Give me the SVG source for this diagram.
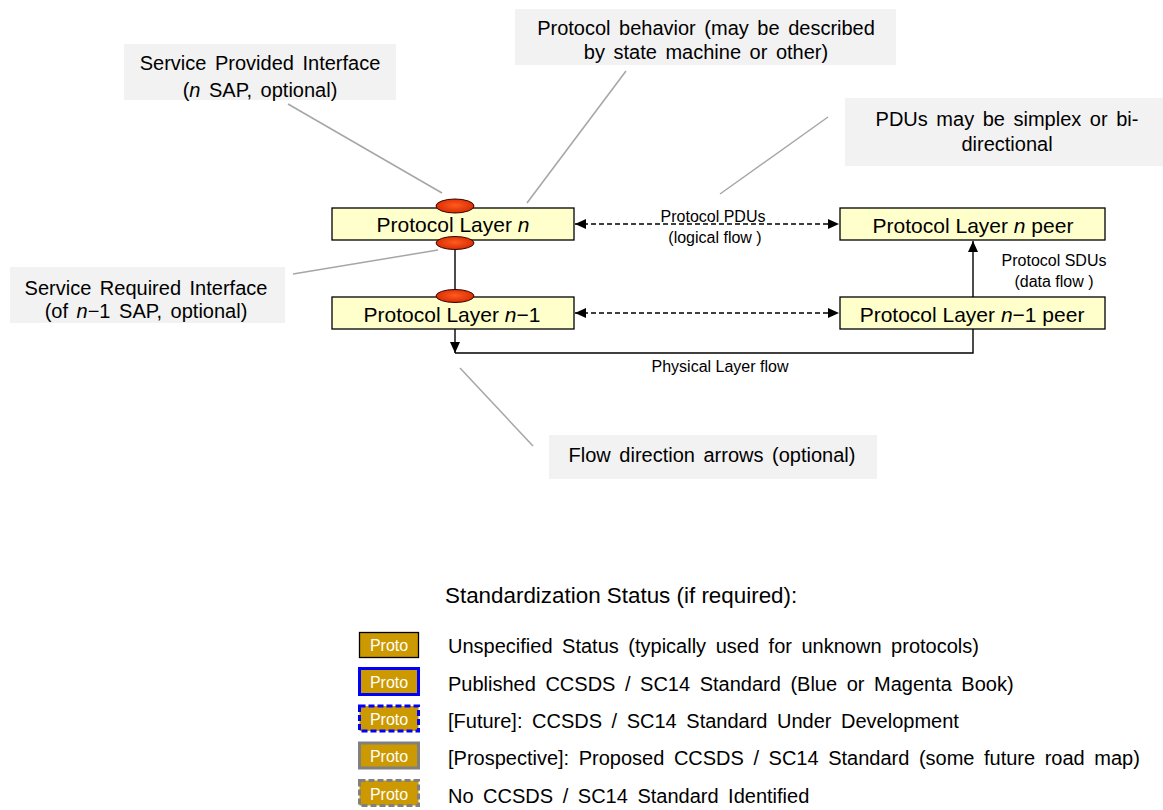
<svg xmlns="http://www.w3.org/2000/svg" width="1163" height="810" viewBox="0 0 1163 810">
<style>
text{font-family:"Liberation Sans",Arial,sans-serif;fill:#000}
.call{fill:#F2F2F2;stroke:none}
.ct{font-size:20px;text-anchor:middle;word-spacing:3px}
.lead{stroke:#A6A6A6;stroke-width:1.5;fill:none}
.box{fill:#FFFFCC;stroke:#000;stroke-width:1.3}
.bt{font-size:21px;text-anchor:middle}
.port{fill:url(#pg);stroke:#3a0000;stroke-width:1}
.dash{stroke:#000;stroke-width:1.4;stroke-dasharray:5 3;fill:none}
.solid{stroke:#000;stroke-width:1.4;fill:none}
.lbl{font-size:16px;text-anchor:middle}
.pb{fill:#CC9900}
.pt{font-size:16px;fill:#fff;text-anchor:middle}
.lt{font-size:20px;word-spacing:4px}
</style>
<defs>
<radialGradient id="pg" cx="0.5" cy="0.45" r="0.6">
<stop offset="0" stop-color="#FF5A1E"/>
<stop offset="1" stop-color="#D42800"/>
</radialGradient>
<marker id="ah" markerWidth="11" markerHeight="10" refX="11" refY="5" orient="auto" markerUnits="userSpaceOnUse">
<path d="M0,0 L11,5 L0,10 z" fill="#000"/>
</marker>
<marker id="ahs" markerWidth="11" markerHeight="10" refX="11" refY="5" orient="auto-start-reverse" markerUnits="userSpaceOnUse">
<path d="M0,0 L11,5 L0,10 z" fill="#000"/>
</marker>
</defs>

<g id="callouts">
<g id="callout-spi">
<rect class="call" x="124" y="44" width="272" height="56"/>
<text class="ct" x="260" y="70">Service Provided Interface</text>
<text class="ct" x="260" y="97" word-spacing="0">(<tspan font-style="italic">n</tspan> SAP, optional)</text>
</g>
<g id="callout-behavior">
<rect class="call" x="515" y="9" width="381" height="56"/>
<text class="ct" x="706" y="35">Protocol behavior  (may be described</text>
<text class="ct" x="706" y="59">by state machine or other)</text>
</g>
<g id="callout-pdus">
<rect class="call" x="845" y="98" width="325" height="68"/>
<text class="ct" x="1007" y="126">PDUs may be simplex or bi-</text>
<text class="ct" x="1007" y="151">directional</text>
</g>
<g id="callout-sri">
<rect class="call" x="10" y="267" width="275" height="56"/>
<text class="ct" x="146" y="295">Service Required Interface</text>
<text class="ct" x="146" y="318">(of <tspan font-style="italic">n</tspan>−1 SAP, optional)</text>
</g>
<g id="callout-flow">
<rect class="call" x="549" y="435" width="328" height="44"/>
<text class="ct" x="712" y="462">Flow direction arrows (optional)</text>
</g>
</g>

<g id="leaders">
<line class="lead" x1="288" y1="104" x2="442" y2="193"/>
<line class="lead" x1="626" y1="71" x2="527" y2="203"/>
<line class="lead" x1="828" y1="117" x2="720" y2="194"/>
<line class="lead" x1="293" y1="274" x2="438" y2="250"/>
<line class="lead" x1="460" y1="368" x2="533" y2="446"/>
</g>

<g id="connectors">
<line class="solid" x1="455" y1="249" x2="455" y2="291"/>
<line class="dash" x1="575" y1="224" x2="839" y2="224" marker-start="url(#ahs)" marker-end="url(#ah)"/>
<line class="dash" x1="575" y1="313" x2="839" y2="313" marker-start="url(#ahs)" marker-end="url(#ah)"/>
<line class="solid" x1="973" y1="297" x2="973" y2="241" marker-end="url(#ah)"/>
<line class="solid" x1="455" y1="329" x2="455" y2="353" marker-end="url(#ah)"/>
<polyline class="solid" points="455,353 973,353 973,329"/>
<text class="lbl" x="713" y="221.5">Protocol PDUs</text>
<text class="lbl" x="715" y="243">(logical flow )</text>
<text class="lbl" x="1054" y="266">Protocol SDUs</text>
<text class="lbl" x="1054" y="287">(data flow )</text>
<text class="lbl" x="720" y="371.5" font-size="17">Physical Layer flow</text>
</g>

<g id="layer-n">
<rect class="box" x="332" y="208" width="242" height="32"/>
<text class="bt" x="453" y="232">Protocol Layer <tspan font-style="italic">n</tspan></text>
<ellipse class="port" cx="455" cy="206" rx="19" ry="7"/>
<ellipse class="port" cx="455" cy="243" rx="19" ry="6.5"/>
</g>
<g id="layer-n-1">
<rect class="box" x="332" y="297" width="242" height="32"/>
<text class="bt" x="452" y="321.5">Protocol Layer <tspan font-style="italic">n</tspan>−1</text>
<ellipse class="port" cx="455" cy="296" rx="19" ry="6.5"/>
</g>
<g id="peer-n">
<rect class="box" x="840" y="208" width="265" height="32"/>
<text class="bt" x="973" y="232.5">Protocol Layer <tspan font-style="italic">n</tspan> peer</text>
</g>
<g id="peer-n-1">
<rect class="box" x="840" y="297" width="265" height="32"/>
<text class="bt" x="972" y="321.5">Protocol Layer <tspan font-style="italic">n</tspan>−1 peer</text>
</g>

<g id="legend">
<text x="445" y="603" font-size="22.4">Standardization Status (if required):</text>
<g id="leg-1">
<rect class="pb" x="359.5" y="632.5" width="59" height="25" stroke="#000" stroke-width="1.3"/>
<text class="pt" x="389" y="651">Proto</text>
<text class="lt" x="448" y="653">Unspecified Status (typically used for unknown protocols)</text>
</g>
<g id="leg-2">
<rect class="pb" x="359.5" y="668.5" width="59" height="26" stroke="#0000FF" stroke-width="3"/>
<text class="pt" x="389" y="688">Proto</text>
<text class="lt" x="448" y="690.5">Published CCSDS / SC14 Standard (Blue or Magenta Book)</text>
</g>
<g id="leg-3">
<rect class="pb" x="359.5" y="706" width="59" height="25" stroke="#0000FF" stroke-width="3" stroke-dasharray="6 3"/>
<text class="pt" x="389" y="725">Proto</text>
<text class="lt" x="448" y="727.5">[Future]: CCSDS / SC14 Standard Under Development</text>
</g>
<g id="leg-4">
<rect class="pb" x="359.5" y="743" width="59" height="25" stroke="#808080" stroke-width="3"/>
<text class="pt" x="389" y="762">Proto</text>
<text class="lt" x="448" y="765">[Prospective]: Proposed CCSDS / SC14 Standard (some future road map)</text>
</g>
<g id="leg-5">
<rect class="pb" x="359.5" y="780.5" width="59" height="25" stroke="#808080" stroke-width="3" stroke-dasharray="6 3"/>
<text class="pt" x="389" y="799.5">Proto</text>
<text class="lt" x="448" y="802.5">No CCSDS / SC14 Standard Identified</text>
</g>
</g>
</svg>
